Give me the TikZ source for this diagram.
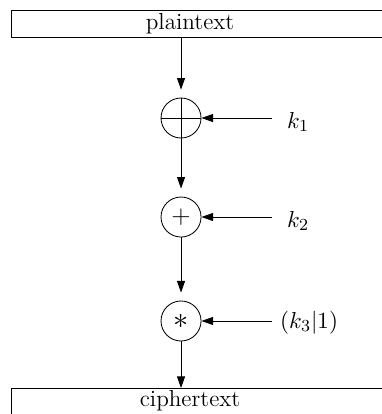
\documentclass[tikz,border=0pt]{standalone}
\usepackage{amsmath}
\usetikzlibrary{arrows.meta}

\tikzset{
  op/.style={draw,circle,minimum size=0.667cm,inner sep=0pt},
  textbox/.style={draw,minimum width=6.6cm,minimum height=0.45cm,inner sep=0pt}
}

\begin{document}
\begin{tikzpicture}[>={Triangle[length=5.5pt,width=3.8pt]},font=\fontsize{11}{13}\selectfont]
\useasboundingbox (0,0) rectangle (6.35,6.9);

% text boxes
\node[textbox,anchor=north west] (plainbox) at (0.183,6.733) {};
\node (plain) at (3.167,6.508) {plaintext};
\node[textbox,anchor=north west] (cipherbox) at (0.183,0.433) {};
\node (cipher) at (3.167,0.217) {ciphertext};

% operations
\node[op] (c1) at (3.017,4.933) {};
\draw (c1.north) -- (c1.south) (c1.west) -- (c1.east);
\node[op] (c2) at (3.017,3.283) {\large$+$};
\node[op] (c3) at (3.017,1.55) {\Large$*$};

\draw[->,shorten >=0.133cm] (plainbox.south -| c1) -- (c1);
\draw[->,shorten >=0.133cm] (c1) -- (c2);
\draw[->,shorten >=0.133cm] (c2) -- (c3);
\draw[->] (c3) -- (c3 |- cipherbox.north);

% keys
\coordinate (in1) at (4.533,4.933);
\coordinate (in2) at (4.533,3.283);
\coordinate (in3) at (4.533,1.55);
\node (k1) at (4.967,4.867) {$k_1$};
\node (k2) at (4.967,3.217) {$k_2$};
\node (k3) at (5.15,1.525) {$(k_3|1)$};

\draw[->] (in1) -- (c1);
\draw[->] (in2) -- (c2);
\draw[->] (in3) -- (c3);

\end{tikzpicture}
\end{document}
